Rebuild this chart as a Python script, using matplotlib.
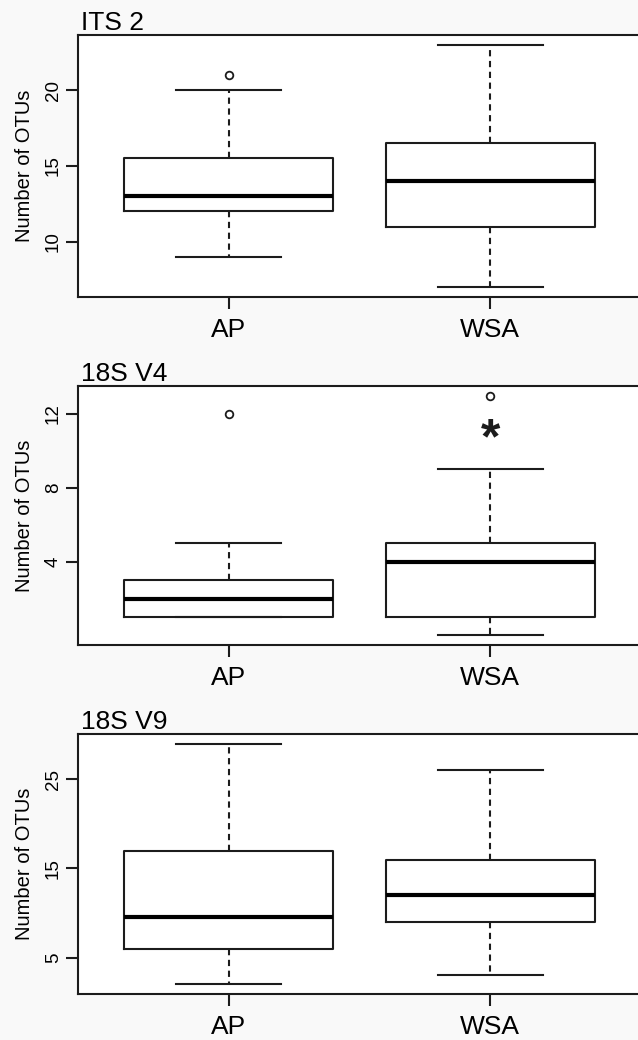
import matplotlib
matplotlib.use("Agg")
import matplotlib.pyplot as plt

plt.rcParams['font.family'] = ['Liberation Sans', 'DejaVu Sans']

groups = ['AP', 'WSA']
titles = ['ITS 2', '18S V4', '18S V9']

its2_q1 = [12, 11]
its2_med = [13, 14]
its2_q3 = [15.5, 16.5]
its2_lo = [9, 7]
its2_hi = [20, 23]
its2_out = [[21], []]

v4_q1 = [1, 1]
v4_med = [2, 4]
v4_q3 = [3, 5]
v4_lo = [1, 0]
v4_hi = [5, 9]
v4_out = [[12], [13]]

v9_q1 = [6, 9]
v9_med = [9.5, 12]
v9_q3 = [17, 16]
v9_lo = [2, 3]
v9_hi = [29, 26]
v9_out = [[], []]

yticks = [[10, 15, 20], [4, 8, 12], [5, 15, 25]]
sig_label = '*'
sig_group = 1
sig_value = 10.85

panels = [
    (its2_q1, its2_med, its2_q3, its2_lo, its2_hi, its2_out),
    (v4_q1, v4_med, v4_q3, v4_lo, v4_hi, v4_out),
    (v9_q1, v9_med, v9_q3, v9_lo, v9_hi, v9_out),
]

W, H = 638, 1040
fig = plt.figure(figsize=(W / 100, H / 100), dpi=100, facecolor='#f9f9f9')

# axes pixel boxes (left, top, right, bottom)
boxes_px = [(78, 35, 641, 297), (78, 386, 641, 645), (78, 734, 641, 994)]
col = '#1c1c1c'
lw = 1.5

for i, ((q1, med, q3, lo, hi, out), (l, t, r, b)) in enumerate(zip(panels, boxes_px)):
    ax = fig.add_axes([l / W, 1 - b / H, (r - l) / W, (b - t) / H])
    ax.set_facecolor('white')
    stats = []
    for g in range(len(groups)):
        stats.append(dict(med=med[g], q1=q1[g], q3=q3[g], whislo=lo[g],
                          whishi=hi[g], fliers=out[g], label=groups[g]))
    ax.bxp(stats, positions=[1, 2], widths=0.8, showfliers=True,
           boxprops=dict(color=col, linewidth=lw),
           medianprops=dict(color='black', linewidth=3.0, solid_capstyle='butt'),
           whiskerprops=dict(color=col, linewidth=lw, linestyle=(0, (3, 2.2))),
           capprops=dict(color=col, linewidth=lw),
           capwidths=0.4,
           flierprops=dict(marker='o', markersize=5.5, markerfacecolor='none',
                           markeredgecolor=col, markeredgewidth=1.3))
    allv = lo + hi + [v for o in out for v in o]
    lo_v, hi_v = min(allv), max(allv)
    ext = (hi_v - lo_v) * 0.04
    ax.set_ylim(lo_v - ext, hi_v + ext)
    ax.set_xlim(0.424, 2.576)
    ax.set_yticks(yticks[i])
    ax.set_yticklabels([str(v) for v in yticks[i]], rotation=90, va='center',
                       fontsize=13.5)
    ax.set_xticks([1, 2])
    ax.set_xticklabels(groups, fontsize=19)
    ax.tick_params(axis='both', length=8.5, width=lw, color=col, labelcolor='black')
    ax.tick_params(axis='x', pad=6.5)
    ax.tick_params(axis='y', pad=3)
    for s in ax.spines.values():
        s.set_linewidth(lw)
        s.set_color(col)
    ax.set_ylabel('Number of OTUs', fontsize=14.5, labelpad=8)
    ax.text(0.005, 1.0, titles[i], transform=ax.transAxes, ha='left', va='bottom',
            fontsize=19, color='black')
    if i == 1:
        ax.text(sig_group + 1, sig_value, sig_label, ha='center', va='center_baseline',
                fontsize=36, fontweight='bold', color=col)

fig.savefig('out.png', dpi=100, facecolor=fig.get_facecolor())
